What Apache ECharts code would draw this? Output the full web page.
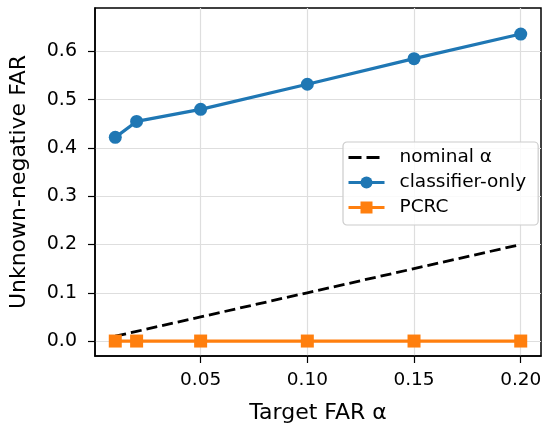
<!DOCTYPE html>
<html><head><meta charset="utf-8">
<script src="https://cdn.jsdelivr.net/npm/echarts@6/dist/echarts.min.js"></script>
<style>html,body{margin:0;padding:0;background:#fff}#c{width:550px;height:433px}</style>
</head><body><div id="c"></div>
<script>
const alphas = [0.01, 0.02, 0.05, 0.10, 0.15, 0.20];
const nominal = [0.01, 0.02, 0.05, 0.10, 0.15, 0.20];
const classifierOnly = [0.422, 0.455, 0.480, 0.532, 0.585, 0.636];
const pcrc = [0, 0, 0, 0, 0, 0];
const xTicks = [0.05, 0.10, 0.15, 0.20];
const yTicks = [0.0, 0.1, 0.2, 0.3, 0.4, 0.5, 0.6];

const pairs = (ys) => alphas.map((a, i) => [a, ys[i]]);
const font = 'DejaVu Sans';
const chart = echarts.init(document.getElementById('c'), null, {renderer: 'canvas'});
chart.setOption({
  animation: false,
  backgroundColor: '#fff',
  grid: {left: 94, right: 9, top: 8, bottom: 77, show: true, borderColor: '#000', borderWidth: 1.5, backgroundColor: 'transparent'},
  xAxis: {
    type: 'value', min: 0.0005, max: 0.2095,
    name: 'Target FAR α', nameLocation: 'middle', nameGap: 46,
    nameTextStyle: {fontFamily: font, fontSize: 22, color: '#000'},
    axisLine: {show: true, onZero: false, lineStyle: {color: '#000', width: 1.5}},
    axisTick: {show: true, inside: false, length: 7, lineStyle: {color: '#000', width: 1.2}, customValues: xTicks},
    axisLabel: {fontFamily: font, fontSize: 18.5, color: '#000', margin: 15, customValues: xTicks,
      formatter: v => v.toFixed(2)},
    splitLine: {show: true, lineStyle: {color: '#dedede', width: 1.2}}
  },
  yAxis: {
    type: 'value', min: -0.031, max: 0.69,
    name: 'Unknown-negative FAR', nameLocation: 'middle', nameGap: 65,
    nameTextStyle: {fontFamily: font, fontSize: 22, color: '#000'},
    axisLine: {show: true, onZero: false, lineStyle: {color: '#000', width: 1.5}},
    axisTick: {show: true, inside: false, length: 7, lineStyle: {color: '#000', width: 1.2}, customValues: yTicks},
    axisLabel: {fontFamily: font, fontSize: 19, color: '#000', margin: 18, customValues: yTicks,
      formatter: v => v.toFixed(1)},
    splitLine: {show: true, lineStyle: {color: '#dedede', width: 1.2}}
  },
  legend: {
    orient: 'vertical', left: 343, top: 142,
    padding: [5, 12, 7, 4], itemGap: 4, itemWidth: 36, itemHeight: 15,
    backgroundColor: 'rgba(255,255,255,0.85)', borderColor: '#cccccc', borderWidth: 1.2, borderRadius: 4,
    textStyle: {fontFamily: font, fontSize: 18.5, color: '#000', padding: [0, 0, 0, 10], lineHeight: 21},
    data: [
      {name: 'nominal α', itemStyle: {opacity: 0}, lineStyle: {width: 3, type: [13, 5]}},
      {name: 'classifier-only', lineStyle: {width: 3}},
      {name: 'PCRC', lineStyle: {width: 3}}
    ]
  },
  series: [
    {name: 'nominal α', type: 'line', data: pairs(nominal), symbol: 'none', z: 2,
      lineStyle: {color: '#000', width: 2.8, type: [11, 5]}, itemStyle: {color: '#000'}},
    {name: 'classifier-only', type: 'line', data: pairs(classifierOnly), symbol: 'circle', symbolSize: 13, z: 3,
      lineStyle: {color: '#1f77b4', width: 3.2}, itemStyle: {color: '#1f77b4'}},
    {name: 'PCRC', type: 'line', data: pairs(pcrc), symbol: 'rect', symbolSize: 13, z: 4,
      lineStyle: {color: '#ff7f0e', width: 3.2}, itemStyle: {color: '#ff7f0e'}}
  ]
});
</script></body></html>
